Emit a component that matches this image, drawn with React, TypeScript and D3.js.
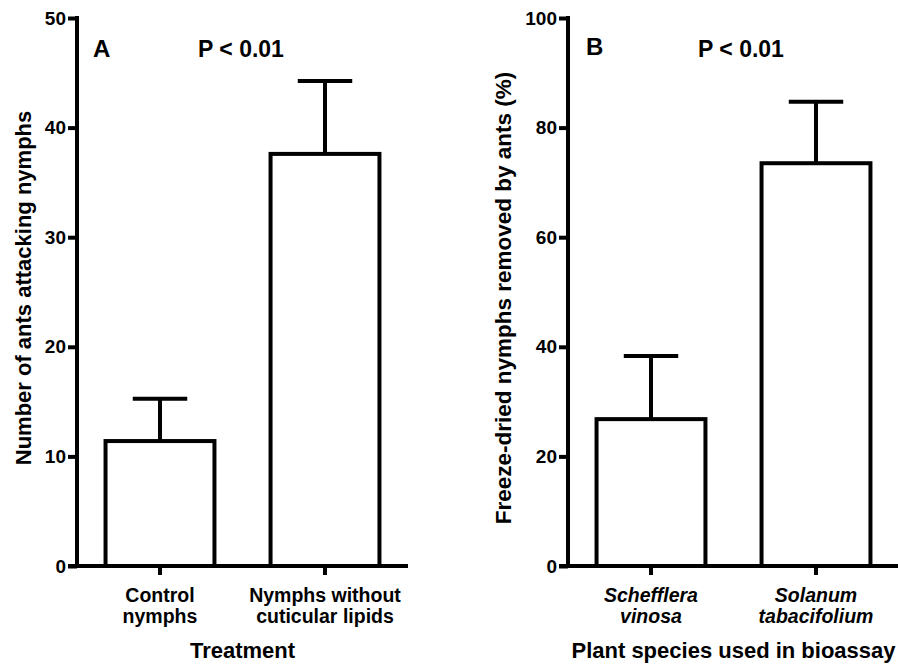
import React, { useEffect, useRef } from 'react';
import * as d3 from 'd3';

// Panel A: ants attacking nymphs
const treatments = ['Control\nnymphs', 'Nymphs without\ncuticular lipids'];
const antMeans = [11.4, 37.6];
const antErrors = [3.85, 6.65];
const antTicks = [0, 10, 20, 30, 40, 50];

// Panel B: freeze-dried nymphs removed
const plants = ['Schefflera\nvinosa', 'Solanum\ntabacifolium'];
const removedMeans = [26.8, 73.5];
const removedErrors = [11.5, 11.2];
const removedTicks = [0, 20, 40, 60, 80, 100];

const FONT = '"Liberation Sans", Arial, sans-serif';
const SW = 4;

interface PanelOpts {
  left: number;
  axisEnd: number;
  letter: string;
  letterX: number;
  letterY: number;
  pX: number;
  cats: string[];
  means: number[];
  errors: number[];
  ticks: number[];
  yMax: number;
  yLabel: string;
  yLabelX: number;
  yLabelY: number;
  yLabelSize: number;
  xLabel: string;
  italic: boolean;
}

const App = () => {
  const ref = useRef<SVGSVGElement>(null);

  useEffect(() => {
    const svg = d3.select(ref.current);
    svg.selectAll('*').remove();

    const top = 18;
    const bottom = 566;

    const drawPanel = (o: PanelOpts) => {
      const g = svg.append('g');
      const y = d3.scaleLinear().domain([0, o.yMax]).range([bottom, top]);
      const x = d3.scaleBand().domain(o.cats).range([o.left, o.axisEnd]).paddingInner(0.34).paddingOuter(0.173);

      // bars
      g.selectAll('rect.bar')
        .data(o.cats)
        .enter().append('rect')
        .attr('x', d => x(d)!)
        .attr('y', (d, i) => y(o.means[i]))
        .attr('width', x.bandwidth())
        .attr('height', (d, i) => bottom - y(o.means[i]))
        .attr('fill', 'white')
        .attr('stroke', 'black')
        .attr('stroke-width', SW);

      // error bars (upper only)
      o.cats.forEach((c, i) => {
        const cx = x(c)! + x.bandwidth() / 2;
        const capW = x.bandwidth() * 0.5;
        const yTop = y(o.means[i] + o.errors[i]);
        g.append('line')
          .attr('x1', cx).attr('x2', cx)
          .attr('y1', y(o.means[i])).attr('y2', yTop)
          .attr('stroke', 'black').attr('stroke-width', SW);
        g.append('line')
          .attr('x1', cx - capW / 2).attr('x2', cx + capW / 2)
          .attr('y1', yTop).attr('y2', yTop)
          .attr('stroke', 'black').attr('stroke-width', SW);
      });

      // y axis
      const yAxis = g.append('g')
        .attr('transform', `translate(${o.left},0)`)
        .call(d3.axisLeft(y).tickValues(o.ticks).tickSize(9).tickPadding(2).tickSizeOuter(0));
      yAxis.select('.domain').attr('stroke-width', SW).attr('d', `M0,${top - 2}V${bottom}`);
      yAxis.selectAll('.tick line').attr('stroke-width', SW);
      yAxis.selectAll('.tick text')
        .attr('font-family', FONT).attr('font-size', 19).attr('font-weight', 'bold').attr('fill', 'black');

      // x axis
      const xAxis = g.append('g')
        .attr('transform', `translate(0,${bottom})`)
        .call(d3.axisBottom(x).tickSize(9).tickSizeOuter(0).tickFormat(() => ''));
      xAxis.select('.domain').attr('stroke-width', SW).attr('d', `M${o.left - 9},0H${o.axisEnd}`);
      xAxis.selectAll('.tick line').attr('stroke-width', SW);

      // category labels
      o.cats.forEach(c => {
        const cx = x(c)! + x.bandwidth() / 2;
        const t = g.append('text')
          .attr('x', cx).attr('y', 602)
          .attr('text-anchor', 'middle')
          .attr('font-family', FONT).attr('font-size', 19.5).attr('font-weight', 'bold')
          .attr('font-style', o.italic ? 'italic' : 'normal');
        c.split('\n').forEach((line, li) => {
          t.append('tspan').attr('x', cx).attr('dy', li === 0 ? 0 : 20.5).text(line);
        });
      });

      // axis titles
      g.append('text')
        .attr('x', (o.left + o.axisEnd) / 2).attr('y', 658)
        .attr('text-anchor', 'middle')
        .attr('font-family', FONT).attr('font-size', 22).attr('font-weight', 'bold')
        .text(o.xLabel);
      g.append('text')
        .attr('transform', `translate(${o.yLabelX},${o.yLabelY}) rotate(-90)`)
        .attr('text-anchor', 'middle')
        .attr('font-family', FONT).attr('font-size', o.yLabelSize).attr('font-weight', 'bold')
        .text(o.yLabel);

      // panel letter and p value
      g.append('text')
        .attr('x', o.letterX).attr('y', o.letterY)
        .attr('font-family', FONT).attr('font-size', 24).attr('font-weight', 'bold')
        .text(o.letter);
      g.append('text')
        .attr('x', o.pX).attr('y', 57)
        .attr('font-family', FONT).attr('font-size', 23).attr('font-weight', 'bold')
        .text('P < 0.01');
    };

    drawPanel({
      left: 77, axisEnd: 408, letter: 'A', letterX: 93, letterY: 57, pX: 198,
      cats: treatments, means: antMeans, errors: antErrors, ticks: antTicks, yMax: 50,
      yLabel: 'Number of ants attacking nymphs', yLabelX: 31, yLabelY: 288, yLabelSize: 22,
      xLabel: 'Treatment', italic: false,
    });
    drawPanel({
      left: 568, axisEnd: 899, letter: 'B', letterX: 586, letterY: 55, pX: 698,
      cats: plants, means: removedMeans, errors: removedErrors, ticks: removedTicks, yMax: 100,
      yLabel: 'Freeze-dried nymphs removed by ants (%)', yLabelX: 511, yLabelY: 298, yLabelSize: 22.5,
      xLabel: 'Plant species used in bioassay', italic: true,
    });
  }, []);

  return (
    <svg ref={ref} width={898} height={664} style={{ position: 'absolute', left: 0, top: 0, background: 'white' }} />
  );
};

export default App;
